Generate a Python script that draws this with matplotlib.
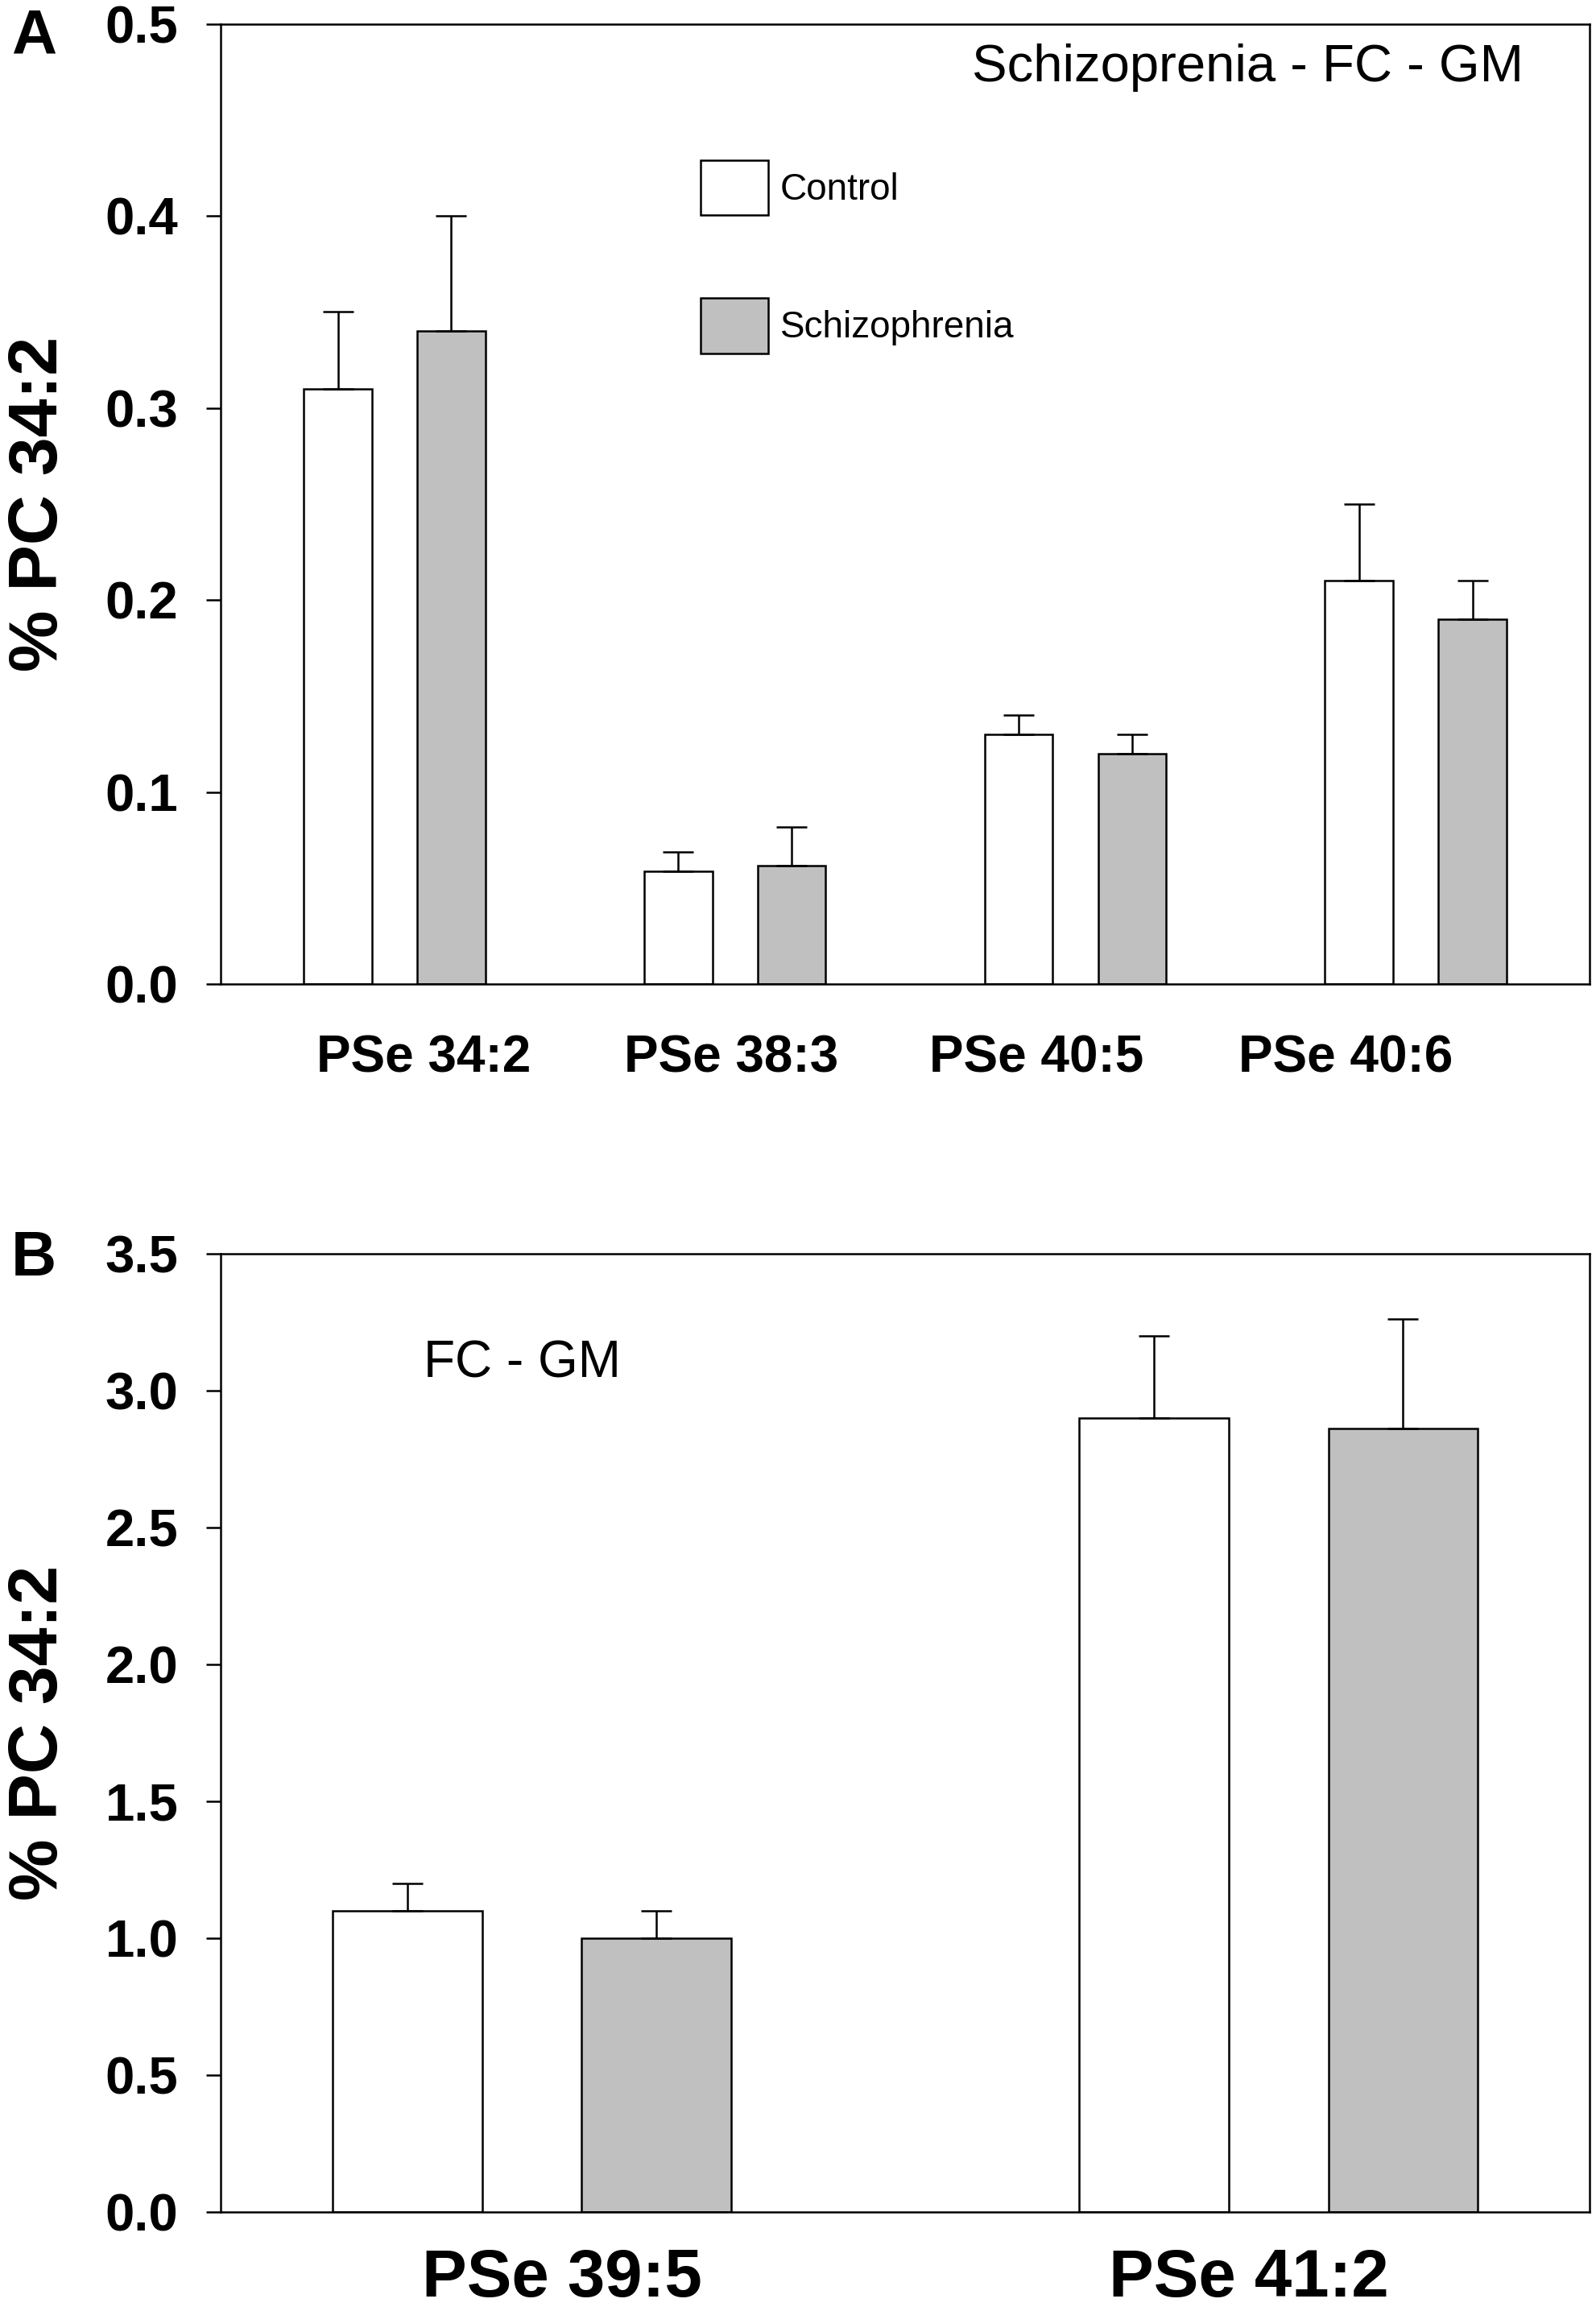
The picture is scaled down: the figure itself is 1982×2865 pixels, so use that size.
import numpy as np
import matplotlib
matplotlib.use('Agg')
import matplotlib.pyplot as plt

plt.rcParams['font.family'] = ['Liberation Sans', 'DejaVu Sans']

# Panel A data
cats_a = ['PSe 34:2', 'PSe 38:3', 'PSe 40:5', 'PSe 40:6']
control_a = [0.31, 0.059, 0.13, 0.21]
control_a_err = [0.04, 0.010, 0.01, 0.04]
schizo_a = [0.34, 0.062, 0.12, 0.19]
schizo_a_err = [0.06, 0.020, 0.01, 0.02]
yticks_a = [0.0, 0.1, 0.2, 0.3, 0.4, 0.5]

# Panel B data
cats_b = ['PSe 39:5', 'PSe 41:2']
control_b = [1.10, 2.90]
control_b_err = [0.10, 0.30]
schizo_b = [1.00, 2.86]
schizo_b_err = [0.10, 0.40]
yticks_b = [0.0, 0.5, 1.0, 1.5, 2.0, 2.5, 3.0, 3.5]

GREY = '#c0c0c0'
LW = 1.8


def draw_panel(ax, cats, ctrl, ctrl_err, sch, sch_err, yticks, xlim, label_shift, xfont, xpad):
    x = np.arange(len(cats))
    off = 1 / 6
    w = 0.2
    b1 = ax.bar(x - off, ctrl, w, color='white', edgecolor='black', linewidth=LW, label='Control', zorder=2)
    b2 = ax.bar(x + off, sch, w, color=GREY, edgecolor='black', linewidth=LW, label='Schizophrenia', zorder=2)
    ax.errorbar(x - off, ctrl, yerr=[np.zeros(len(x)), ctrl_err], fmt='none', ecolor='black',
                elinewidth=LW, capsize=13.5, capthick=LW, zorder=3)
    ax.errorbar(x + off, sch, yerr=[np.zeros(len(x)), sch_err], fmt='none', ecolor='black',
                elinewidth=LW, capsize=13.5, capthick=LW, zorder=3)
    ax.set_xlim(*xlim)
    ax.set_ylim(yticks[0], yticks[-1])
    ax.set_yticks(yticks, [f'{v:.1f}' for v in yticks])
    # SigmaPlot-style category labels sit slightly off the group centres
    ax.set_xticks(x + np.array(label_shift), cats)
    ax.tick_params(axis='y', direction='out', length=13, width=LW, pad=25, labelsize=47)
    ax.tick_params(axis='x', length=0, pad=xpad, labelsize=xfont)
    for lab in ax.get_yticklabels() + ax.get_xticklabels():
        lab.set_fontweight('bold')
    for sp in ax.spines.values():
        sp.set_linewidth(LW)
    ax.set_ylabel('% PC 34:2', fontsize=62, fontweight='bold', labelpad=0)
    return b1, b2


fig = plt.figure(figsize=(19.83, 28.65), dpi=100)
axA = fig.add_axes([0.1382, 0.5733, 0.8573, 0.4164])
axB = fig.add_axes([0.1382, 0.0412, 0.8573, 0.4154])

bA = draw_panel(axA, cats_a, control_a, control_a_err, schizo_a, schizo_a_err, yticks_a,
                (-0.511, 3.511), [0.085, -0.01, -0.115, -0.205], 46, 45)
bB = draw_panel(axB, cats_b, control_b, control_b_err, schizo_b, schizo_b_err, yticks_b,
                (-0.4167, 1.4167), [0.04, -0.04], 60, 32)

axA.yaxis.set_label_coords(-0.109, 0.5)
axB.yaxis.set_label_coords(-0.109, 0.5)

axA.text(0.952, 0.940, 'Schizoprenia - FC - GM', transform=axA.transAxes,
         ha='right', va='baseline', fontsize=47)
axB.text(0.148, 0.871, 'FC - GM', transform=axB.transAxes,
         ha='left', va='baseline', fontsize=46)

axA.legend(handles=list(bA), loc='upper left', bbox_to_anchor=(870 / 1983, 1 - 199 / 2865),
           bbox_transform=fig.transFigure, frameon=False, fontsize=33,
           handlelength=1.83, handleheight=1.92, labelspacing=2.24,
           handletextpad=0.33, borderpad=0, borderaxespad=0)

fig.text(14 / 1983, 1 - 67 / 2865, 'A', fontsize=56, fontweight='bold', va='baseline')
fig.text(14 / 1983, 1 - 1584 / 2865, 'B', fontsize=56, fontweight='bold', va='baseline')

fig.savefig('out.png', dpi=100)
